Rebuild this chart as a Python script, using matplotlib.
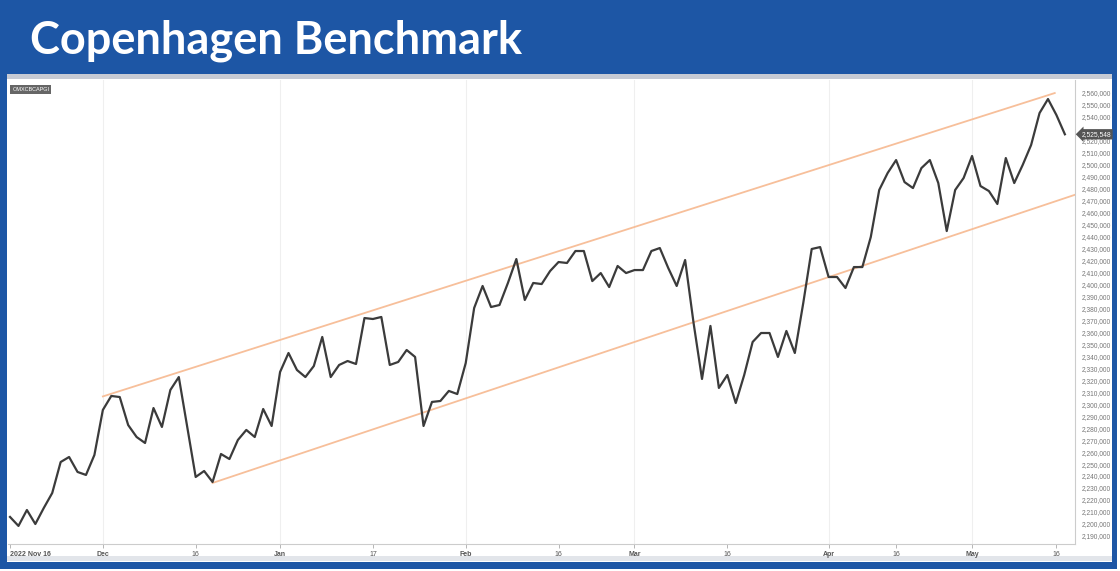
import numpy as np
import matplotlib
matplotlib.use("Agg")
import matplotlib.pyplot as plt
from matplotlib.patches import Rectangle
from matplotlib.ticker import FuncFormatter

W, H = 1120, 571

# --------------------------------------------------------------------------- #
# data (daily closes, one per trading day)
# --------------------------------------------------------------------------- #
close = [
    2205800, 2198300, 2211600, 2199900, 2213300, 2225800, 2251700, 2255900,
    2243400, 2240900, 2257600, 2295200, 2306900, 2306000, 2282600, 2272600,
    2267600, 2296800, 2281000, 2311900, 2322700, 2281000, 2239200, 2244200,
    2235000, 2258400, 2254200, 2270100, 2278500, 2272600, 2296000, 2281800,
    2326900, 2342800, 2328600, 2322700, 2331900, 2356200, 2322700, 2332800,
    2336100, 2333600, 2372000, 2371200, 2372900, 2332800, 2335300, 2345300,
    2339500, 2281800, 2301900, 2302700, 2311100, 2308500, 2334400, 2380400,
    2398800, 2381200, 2382900, 2401300, 2421300, 2387100, 2401300, 2400400,
    2411300, 2418800, 2418000, 2428000, 2428000, 2402900, 2409600, 2397900,
    2415500, 2409600, 2412100, 2412100, 2428000, 2430500, 2413800, 2398800,
    2420500, 2367900, 2321100, 2365400, 2313600, 2324400, 2301000, 2324400,
    2352000, 2359500, 2359500, 2339500, 2361200, 2342800, 2384600, 2429700,
    2431300, 2406300, 2406300, 2397100, 2414600, 2414600, 2439700, 2479000,
    2493200, 2504000, 2485600, 2480600, 2497300, 2504000, 2484800, 2444700,
    2479000, 2489000, 2507400, 2482300, 2478100, 2467300, 2505700, 2484800,
    2499900, 2516600, 2543300, 2555000, 2541600, 2525548,
]
last_price = close[-1]

# x ticks, in trading-day index
tick_pos = [0, 11, 22, 32, 43, 54, 65, 74, 85, 97, 105, 114, 124]
tick_labels = ["2022 Nov 16", "Dec", "16", "Jan", "17", "Feb", "16",
               "Mar", "16", "Apr", "16", "May", "16"]
month_pos = [11, 32, 54, 74, 97, 114]

# price scale ticks (2,530,000 sits under the last-price tag)
y_ticks = [v for v in range(2190000, 2570000, 10000) if v != 2530000]

# trend channel (hand-drawn on the original)
upper_x = [11, 123.8]
upper_y = [2306500, 2560000]
lower_x = [24, 126.2]
lower_y = [2234200, 2475000]

ticker = "OMXCBCAPGI"
title = "Copenhagen Benchmark"

BLUE = "#1d56a5"
LINE = "#3b3b3b"
CHANNEL = "#f7bf9a"


def box(x0, y0, x1, y1, color):
    """Rectangle in pixel coords (origin top-left) on the figure."""
    fig.add_artist(Rectangle((x0 / W, 1 - y1 / H), (x1 - x0) / W, (y1 - y0) / H,
                             transform=fig.transFigure, facecolor=color,
                             edgecolor="none", zorder=-10))


fig = plt.figure(figsize=(W / 100, H / 100), dpi=100)
fig.patch.set_facecolor("white")

# frame: blue slide, grey strip, white chart panel
box(0, 0, 1117, 569, BLUE)
box(7, 74, 1112, 79, "#c6cad4")
box(7, 79, 1112, 562, "white")
box(7, 556, 1112, 561, "#e2e5ea")

fig.text(30 / W, 1 - 41 / H, title, color="white", fontsize=32.5,
         fontweight="bold", family="Lato", va="center", ha="left")

ax = fig.add_axes([8 / W, 1 - 544 / H, 1067 / W, 464 / H])
ax.set_facecolor("white")

for m in month_pos:
    ax.axvline(m, color="#efefef", lw=0.8, zorder=0)

ax.plot(upper_x, upper_y, color=CHANNEL, lw=1.3, zorder=2)
ax.plot(lower_x, lower_y, color=CHANNEL, lw=1.3, zorder=2)
ax.plot(np.arange(len(close)), close, color=LINE, lw=1.6, zorder=3)

ax.set_xlim(-0.24, 126.2)
ax.set_ylim(2183200, 2570900)

# right-hand price scale
ax.yaxis.tick_right()
ax.set_yticks(y_ticks)
ax.yaxis.set_major_formatter(FuncFormatter(lambda v, _: f"{v:,.0f}"))
ax.tick_params(axis="y", length=0, pad=5, labelsize=4.8, labelcolor="#777777")
for lab in ax.get_yticklabels():
    lab.set_family("Liberation Sans")

ax.set_xticks(tick_pos, tick_labels)
ax.tick_params(axis="x", direction="out", length=3, width=0.6, color="#aaaaaa",
               pad=2, labelsize=5, labelcolor="#555555")
for lab, txt in zip(ax.get_xticklabels(), tick_labels):
    lab.set_family("Liberation Sans")
    if not txt.isdigit():
        lab.set_fontweight("bold")
ax.get_xticklabels()[0].set_ha("left")

for side in ("top", "left"):
    ax.spines[side].set_visible(False)
for side in ("right", "bottom"):
    ax.spines[side].set_color("#cccccc")
    ax.spines[side].set_linewidth(0.8)

# last-price tag
ax.text(1.006, last_price, f"{last_price:,.0f}", transform=ax.get_yaxis_transform(),
        ha="left", va="center", fontsize=4.8, color="white", family="Liberation Sans",
        bbox=dict(boxstyle="larrow,pad=0.25", fc="#555555", ec="none"), zorder=5,
        clip_on=False)

# ticker badge
ax.text(0.004, 0.985, ticker, transform=ax.transAxes, ha="left", va="top",
        fontsize=4, color="white", family="Liberation Sans",
        bbox=dict(boxstyle="square,pad=0.35", fc="#666666", ec="none"))

fig.savefig("out.png", dpi=100)
